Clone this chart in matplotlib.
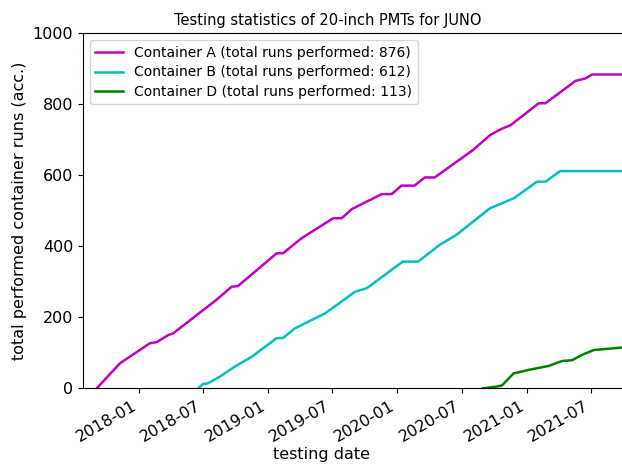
import pandas as pd
import matplotlib
matplotlib.use("Agg")
import matplotlib.pyplot as plt
import matplotlib.dates as mdates

# container A
dates_a = ["2017-09-04", "2017-11-08", "2018-02-01", "2018-02-20", "2018-03-25",
           "2018-04-08", "2018-08-09", "2018-09-20", "2018-10-08", "2019-01-25",
           "2019-02-13", "2019-04-06", "2019-07-04", "2019-07-28", "2019-08-26",
           "2019-11-18", "2019-12-16", "2020-01-13", "2020-02-19", "2020-03-19",
           "2020-04-16", "2020-05-28", "2020-08-02", "2020-09-19", "2020-10-20",
           "2020-11-16", "2021-02-04", "2021-02-23", "2021-05-19", "2021-06-16",
           "2021-07-05", "2021-09-30"]
runs_a = [0, 70, 127, 130, 150, 155, 250, 286, 288, 380, 381, 423, 479, 479, 505,
          547, 547, 571, 571, 594, 594, 624, 671, 713, 730, 741, 803, 803, 866,
          873, 884, 884]

# container B
dates_b = ["2018-06-18", "2018-07-01", "2018-07-15", "2018-08-18", "2018-09-29",
           "2018-11-16", "2019-01-25", "2019-02-13", "2019-03-18", "2019-06-11",
           "2019-09-04", "2019-10-07", "2020-01-17", "2020-02-29", "2020-04-30",
           "2020-06-16", "2020-09-19", "2020-11-25", "2021-01-30", "2021-02-23",
           "2021-04-06", "2021-09-30"]
runs_b = [0, 12, 14, 33, 61, 89, 141, 142, 169, 211, 272, 282, 357, 357, 404,
          432, 507, 535, 582, 582, 612, 612]

# container D
dates_d = ["2020-08-30", "2020-10-09", "2020-10-23", "2020-11-25", "2021-01-07",
           "2021-03-04", "2021-04-11", "2021-05-09", "2021-06-06", "2021-07-10",
           "2021-09-30"]
runs_d = [0, 5, 8, 42, 52, 63, 77, 79, 94, 108, 115]

labels = ["Container A (total runs performed: 876)",
          "Container B (total runs performed: 612)",
          "Container D (total runs performed: 113)"]

plt.rcParams['font.size'] = 11.5

fig = plt.figure(figsize=(6.22, 4.72), dpi=100)
ax = fig.add_axes([0.1334, 0.1773, 0.8698, 0.7521])

ax.plot(pd.to_datetime(dates_a), runs_a, color='m', lw=1.8, label=labels[0])
ax.plot(pd.to_datetime(dates_b), runs_b, color='c', lw=1.8, label=labels[1])
ax.plot(pd.to_datetime(dates_d), runs_d, color='g', lw=1.8, label=labels[2])

ax.set_xlim(pd.Timestamp("2017-07-27"), pd.Timestamp("2021-10-03"))
ax.set_ylim(0, 1000)
ax.set_yticks([0, 200, 400, 600, 800, 1000])
ax.xaxis.set_major_locator(mdates.MonthLocator(bymonth=[1, 7]))
ax.xaxis.set_major_formatter(mdates.DateFormatter("%Y-%m"))
for lab in ax.get_xticklabels():
    lab.set_rotation(30)
    lab.set_ha('right')

# the original figure is cut on the right, so title/xlabel sit left of centre
ax.set_title("Testing statistics of 20-inch PMTs for JUNO", fontsize=10.5, x=0.453)
ax.set_xlabel("testing date")
ax.xaxis.set_label_coords(0.44, -0.165)
ax.set_ylabel("total performed container runs (acc.)")
ax.legend(loc='upper left', fontsize=10, labelspacing=0.4)

fig.savefig("out.png", dpi=100)
